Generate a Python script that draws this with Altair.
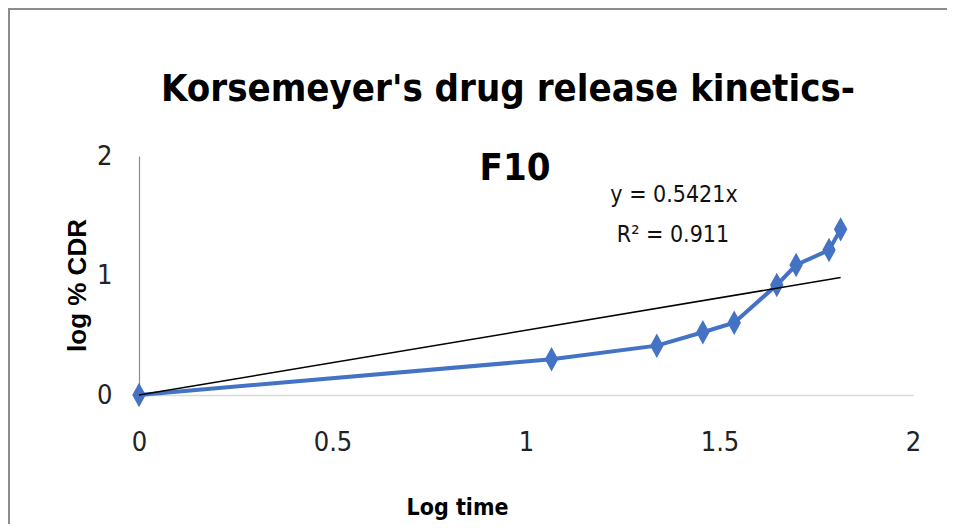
import altair as alt
import pandas as pd

# data
log_time = [0, 1.066, 1.338, 1.457, 1.538, 1.648, 1.698, 1.783, 1.813]
log_cdr = [0, 0.299, 0.413, 0.525, 0.605, 0.921, 1.088, 1.213, 1.386]
slope = 0.5421
r2 = 0.911
x_ticks = [0, 0.5, 1, 1.5, 2]
y_ticks = [0, 1, 2]
title_lines = ["Korsemeyer's drug release kinetics-", "F10"]

NARROW = "DejaVu Sans Condensed, sans-serif"
BLUE = "#4472C4"

df = pd.DataFrame({"x": log_time, "y": log_cdr})
trend = pd.DataFrame({"x": [0, max(log_time)], "y": [0, slope * max(log_time)]})

W, H = 774, 239
xs = alt.Scale(domain=[0, 2], nice=False)
ys = alt.Scale(domain=[0, 2], nice=False)

xaxis = alt.Axis(values=x_ticks, format="~g", title="Log time", grid=False, ticks=False,
                 domainColor="#d9d9d9", domainWidth=1.5, labelFlush=False,
                 labelFont=NARROW, labelFontSize=27, labelColor="#222",
                 labelPadding=47, labelBaseline="middle",
                 titleFont=NARROW, titleFontSize=23, titleFontWeight="bold", titleColor="#000",
                 titleX=318, titleY=119, titleBaseline="alphabetic", titleAlign="center")
yaxis = alt.Axis(values=y_ticks, format="~g", title="log % CDR", grid=False, ticks=False,
                 domainColor="#8c8c8c", domainWidth=1.2, labelFlush=False,
                 labelFont=NARROW, labelFontSize=27, labelColor="#222",
                 labelPadding=27, labelBaseline="middle",
                 titleFont="Liberation Sans, Arial, sans-serif", titleFontSize=26,
                 titleFontWeight="bold", titleColor="#000",
                 titleX=-62, titleY=129, titleAngle=-90, titleBaseline="middle",
                 titleAlign="center")

base = alt.Chart(df)
line = base.mark_line(color=BLUE, strokeWidth=4).encode(
    x=alt.X("x:Q", scale=xs, axis=xaxis),
    y=alt.Y("y:Q", scale=ys, axis=yaxis),
)
pts = base.mark_point(shape="M-0.55,0L0,-1L0.55,0L0,1Z", filled=True, opacity=1,
                      color=BLUE, size=600).encode(
    x=alt.X("x:Q", scale=xs), y=alt.Y("y:Q", scale=ys))
tl = alt.Chart(trend).mark_line(color="#000", strokeWidth=1.5).encode(
    x=alt.X("x:Q", scale=xs), y=alt.Y("y:Q", scale=ys))

t1 = alt.Chart(pd.DataFrame({"t": [title_lines[0]]})).mark_text(
    font=NARROW, fontSize=38, fontWeight="bold", color="#000",
    align="center", baseline="alphabetic").encode(
    text="t:N", x=alt.value(369), y=alt.value(-55))
t2 = alt.Chart(pd.DataFrame({"t": [title_lines[1]]})).mark_text(
    font=NARROW, fontSize=38, fontWeight="bold", color="#000",
    align="center", baseline="alphabetic").encode(
    text="t:N", x=alt.value(376), y=alt.value(24))

eq1 = alt.Chart(pd.DataFrame({"t": [f"y = {slope}x"]})).mark_text(
    font=NARROW, fontSize=23, color="#111", align="center", baseline="alphabetic").encode(
    text="t:N", x=alt.value(535), y=alt.value(46))
eq2 = alt.Chart(pd.DataFrame({"t": [f"R² = {r2}"]})).mark_text(
    font=NARROW, fontSize=23, color="#111", align="center", baseline="alphabetic").encode(
    text="t:N", x=alt.value(534), y=alt.value(86))

border_l = alt.Chart(pd.DataFrame({"a": [0]})).mark_rule(color="#8c8c8c", strokeWidth=2).encode(
    x=alt.value(-130), y=alt.value(-148), y2=alt.value(H + 129))
border_t = alt.Chart(pd.DataFrame({"a": [0]})).mark_rule(color="#8c8c8c", strokeWidth=2).encode(
    y=alt.value(-147), x=alt.value(-131), x2=alt.value(W + 34))

chart = alt.layer(border_l, border_t, line, pts, tl, t1, t2, eq1, eq2).properties(
    width=W, height=H,
    background="white",
    padding={"left": 131, "top": 148, "right": 34, "bottom": 129},
    autosize=alt.AutoSizeParams(type="none"),
).configure_view(stroke="transparent", strokeWidth=0)

chart.save("out.html", embed_options={"renderer": "svg", "actions": False})
